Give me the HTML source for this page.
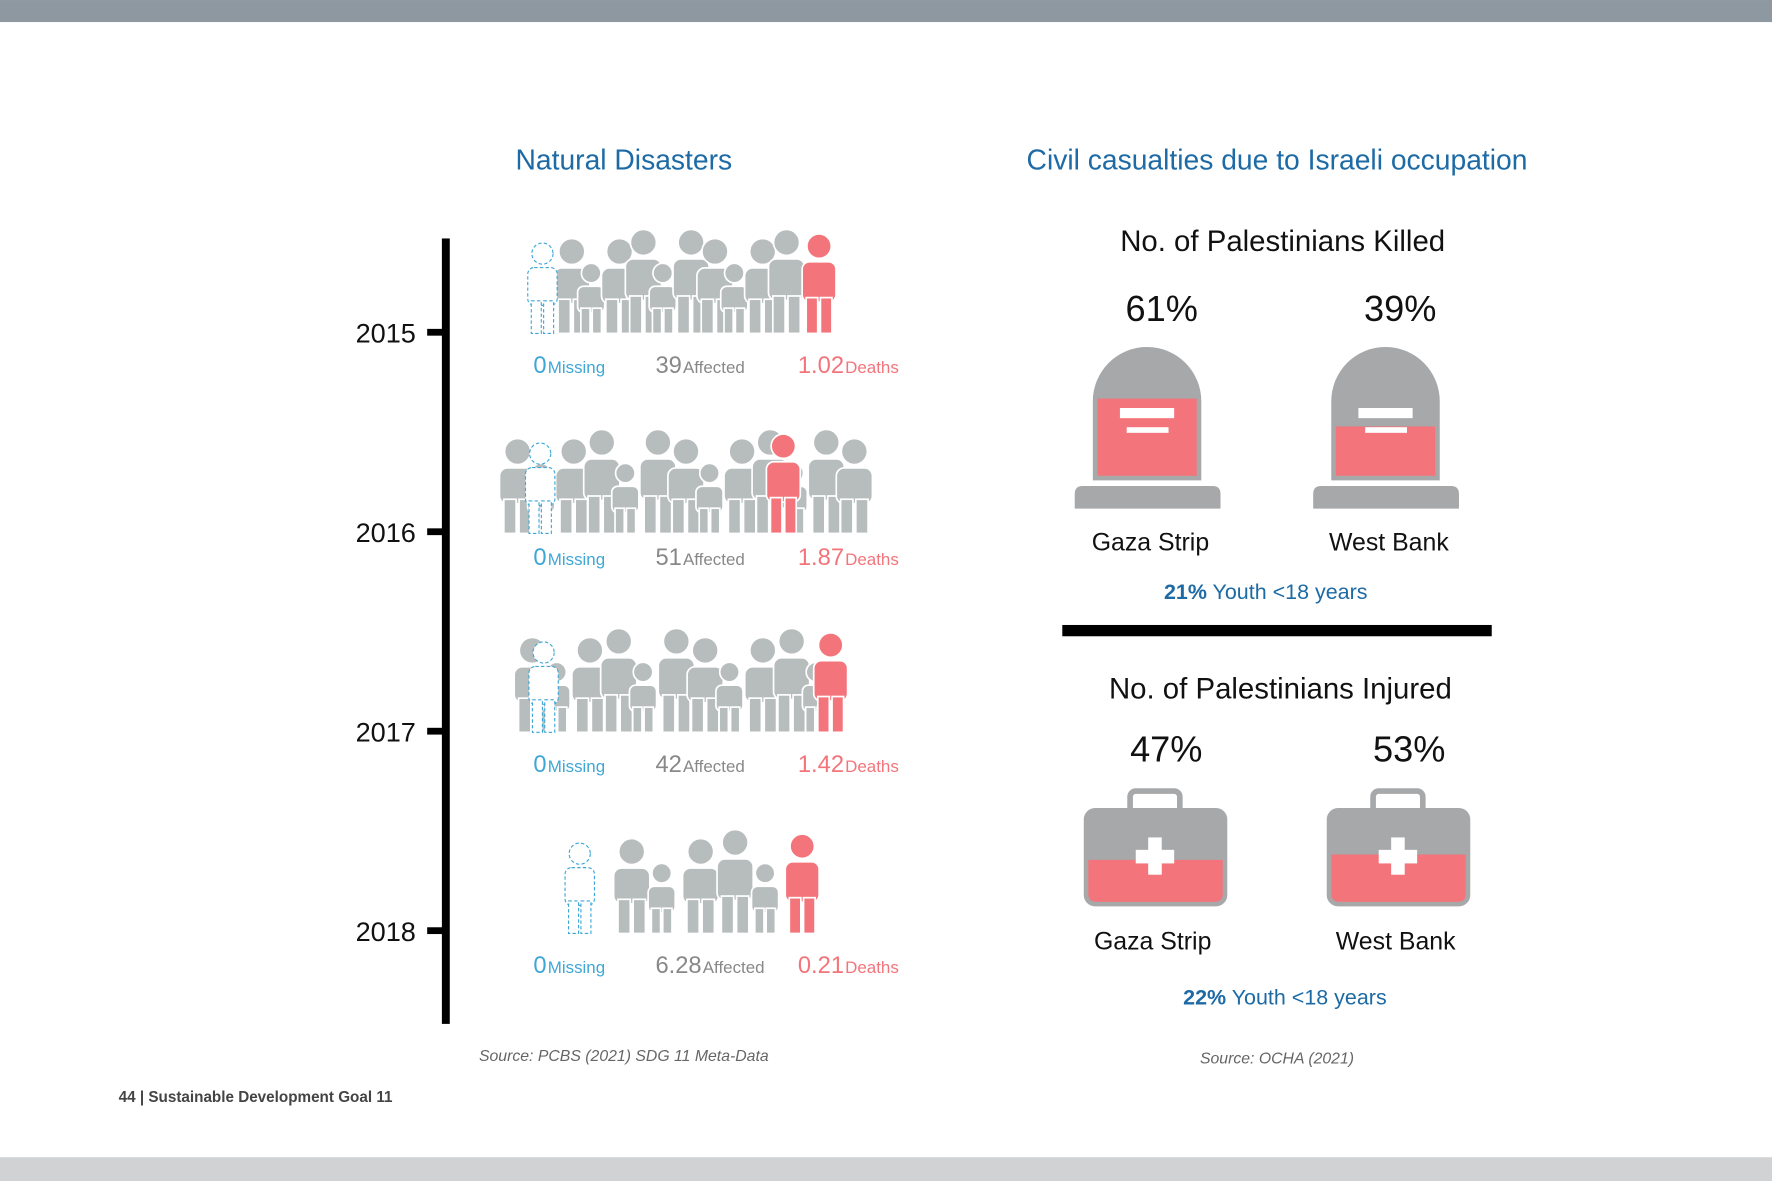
<!DOCTYPE html>
<html><head><meta charset="utf-8"><style>
html,body{margin:0;padding:0;background:#fff;}
svg{display:block;font-family:"Liberation Sans",sans-serif;}
</style></head><body>
<svg id="chart" width="1772" height="1181" viewBox="0 0 1568 1045" xmlns="http://www.w3.org/2000/svg">
<rect x="0" y="0" width="1568" height="19.5" fill="#8e98a1"/>
<rect x="0" y="1024" width="1568" height="21" fill="#d1d2d4"/>
<text x="552" y="150" font-size="25" fill="#1d6aa5" text-anchor="middle">Natural Disasters</text>
<text x="1130" y="150" font-size="25" fill="#1d6aa5" text-anchor="middle">Civil casualties due to Israeli occupation</text>
<rect x="391" y="211" width="7" height="695" fill="#000"/>
<g id="timeline"></g>
<g id="people"></g>
<g id="labels"></g>
<text x="1135" y="222" font-size="26" fill="#111" text-anchor="middle">No. of Palestinians Killed</text>
<g id="killed"></g>
<text x="1120" y="530" font-size="19" fill="#1d6aa5" text-anchor="middle"><tspan font-weight="bold">21%</tspan> Youth &lt;18 years</text>
<rect x="940" y="553" width="380" height="10" fill="#000"/>
<text x="1133" y="618" font-size="26" fill="#111" text-anchor="middle">No. of Palestinians Injured</text>
<g id="injured"></g>
<text x="1137" y="889" font-size="19" fill="#1d6aa5" text-anchor="middle"><tspan font-weight="bold">22%</tspan> Youth &lt;18 years</text>
<text x="552" y="939" font-size="14" font-style="italic" fill="#666" text-anchor="middle">Source: PCBS (2021) SDG 11 Meta-Data</text>
<text x="1130" y="941" font-size="14" font-style="italic" fill="#666" text-anchor="middle">Source: OCHA (2021)</text>
<text x="105" y="975" font-size="13.5" font-weight="bold" fill="#444">44 | Sustainable Development Goal 11</text>
</svg>
<script>
const years = ['2015','2016','2017','2018'];
const missing = ['0','0','0','0'];
const affected = ['39','51','42','6.28'];
const deaths = ['1.02','1.87','1.42','0.21'];
const pictogramCounts = [10,13,11,5];
const regions = ['Gaza Strip','West Bank'];
const killedPct = [61,39];
const injuredPct = [47,53];

const NS='http://www.w3.org/2000/svg';
function mk(tag, attrs, parent){const e=document.createElementNS(NS,tag);for(const k in attrs)e.setAttribute(k,attrs[k]);parent.appendChild(e);return e;}
const G='#b7bcbc', RED='#f3757b', BLUE='#3fa7d6';
const tickY = y => 294 + y*176.5;
const tl=document.getElementById('timeline');
const pe=document.getElementById('people');
const lb=document.getElementById('labels');
const rowBase=[295,472,648,826];
const rowSpan=[[490,710],[442,770],[455,740],[543,695]];
const redPos=[0.999,0.72,0.93,0.999];
const missX=[467,465,468,500];
const labY=[330,500,683,861];

function figure(g,x,base,h,w,color,dashed){
  const hr=w*0.36, bodyTop=base-h+hr*2+3, legTop=base-h*0.36;
  const st = dashed?{fill:'#fff',stroke:BLUE,'stroke-width':1,'stroke-dasharray':'3,2'}:{fill:color,stroke:'#fff','stroke-width':1.5};
  const c=mk('circle',Object.assign({cx:x+w/2,cy:base-h+hr,r:hr},st),g);
  
  
  const b=mk('rect',Object.assign({x:x,y:bodyTop,width:w,height:legTop-bodyTop+4,rx:w*0.22},st),g);
  
  
  const lw=w*0.34;
  [x+w*0.12,x+w*0.54].forEach(lx=>{
    const l=mk('rect',Object.assign({x:lx,y:legTop,width:lw,height:base-legTop},st),g);
    
    
  });
}

years.forEach((yr,i)=>{
  const y=tickY(i);
  const t=mk('rect',{x:378,y:y-3,width:16,height:6,fill:'#000'},tl);
  
  
  const tx=mk('text',{x:368,y:y+9,'font-size':24,fill:'#111','text-anchor':'end'},tl);
  tx.textContent=yr;
  
  

  const g=mk('g',{},pe);
  
  
  const base=rowBase[i], [x0,x1]=rowSpan[i], n=pictogramCounts[i];
  const step=(x1-x0-30)/(n-1);
  for(let k=0;k<n;k++){
    const tall=(k%3!==1);
    const h=tall?(k%2?92:84):62, w=tall?32:24;
    figure(g,x0+k*step,base,h,w,G,false);
  }
  figure(g,missX[i],base,80,26,'#fff',true);
  figure(g,x0+(x1-x0)*redPos[i],base,88,30,RED,false);

  const parts=[[472,BLUE,missing[i],'Missing'],[580,'#888',affected[i],'Affected'],[706,RED,deaths[i],'Deaths']];
  parts.forEach(p=>{
    const t2=mk('text',{x:p[0],y:labY[i],fill:p[1],'font-size':21},lb);
    
    
    const a=mk('tspan',{},t2);a.textContent=p[2];
    const bb=mk('tspan',{'font-size':15,dx:1},t2);bb.textContent=p[3];
  });
});

const kg=document.getElementById('killed');
const kx=[1015,1226];
regions.forEach((r,i)=>{
  const cx=kx[i];
  const g=mk('g',{},kg);
  
  
  const p=mk('text',{x:cx+13,y:284,'font-size':32,fill:'#111','text-anchor':'middle'},g);
  p.textContent=killedPct[i]+'%';
  const top=307,bot=425,l=cx-48,w=96;
  mk('path',{d:`M${l} ${bot} L${l} ${top+48} A48 48 0 0 1 ${l+w} ${top+48} L${l+w} ${bot} Z`,fill:'#a6a8aa'},g);
  const innerTop=352, innerBot=421, fillH=(innerBot-innerTop)*killedPct[i]/61*0.99;
  const fr=mk('rect',{x:l+4,y:innerBot-Math.min(fillH,innerBot-innerTop),width:w-8,height:Math.min(fillH,innerBot-innerTop),fill:RED},g);
  
  
  mk('rect',{x:cx-24,y:361,width:48,height:9,fill:'#fff'},g);
  mk('rect',{x:cx-18,y:378,width:37,height:5,fill:'#fff'},g);
  mk('path',{d:`M${cx-64} 450 L${cx-64} 437 Q${cx-64} 430 ${cx-57} 430 L${cx+58} 430 Q${cx+65} 430 ${cx+65} 437 L${cx+65} 450 Z`,fill:'#a6a8aa'},g);
  const lt=mk('text',{x:cx+3,y:487,'font-size':22,fill:'#111','text-anchor':'middle'},g);
  lt.textContent=r;
});

const ig=document.getElementById('injured');
const ix=[1022,1237];
regions.forEach((r,i)=>{
  const cx=ix[i];
  const g=mk('g',{},ig);
  
  
  const p=mk('text',{x:cx+10,y:674,'font-size':32,fill:'#111','text-anchor':'middle'},g);
  p.textContent=injuredPct[i]+'%';
  const l=cx-63,w=127,top=715,bot=802;
  mk('rect',{x:cx-22,y:700,width:44,height:24,rx:5,fill:'none',stroke:'#a6a8aa','stroke-width':5},g);
  mk('rect',{x:l,y:top,width:w,height:bot-top,rx:10,fill:'#a6a8aa'},g);
  const iTop=top+4,iBot=bot-4,fh=(iBot-iTop)*injuredPct[i]/100;
  const fr=mk('path',{d:`M${l+4} ${iBot-fh} L${l+w-4} ${iBot-fh} L${l+w-4} ${iBot-7} Q${l+w-4} ${iBot} ${l+w-11} ${iBot} L${l+11} ${iBot} Q${l+4} ${iBot} ${l+4} ${iBot-7} Z`,fill:RED},g);
  
  
  mk('rect',{x:cx-6,y:741,width:12,height:33,fill:'#fff'},g);
  mk('rect',{x:cx-17,y:752,width:34,height:12,fill:'#fff'},g);
  const lt=mk('text',{x:cx-2,y:840,'font-size':22,fill:'#111','text-anchor':'middle'},g);
  lt.textContent=r;
});
</script>
</body></html>
